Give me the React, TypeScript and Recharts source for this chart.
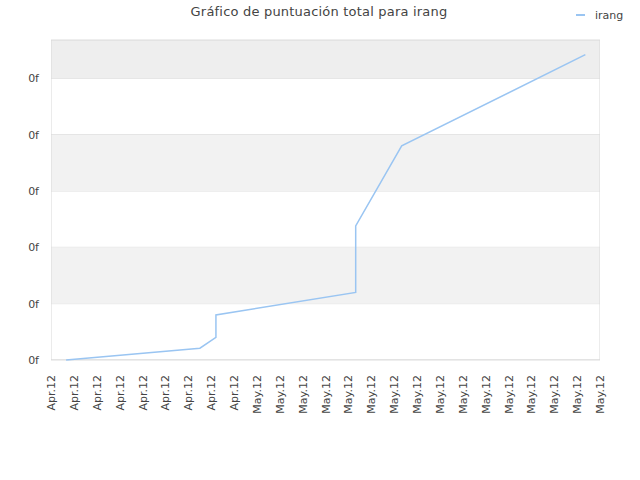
import React from 'react';
import {
  LineChart,
  Line,
  XAxis,
  YAxis,
  CartesianGrid,
  ReferenceArea
} from 'recharts';

// tick labels along the x axis (one per tick)
const xLabels = [
  'Apr.12', 'Apr.12', 'Apr.12', 'Apr.12', 'Apr.12', 'Apr.12', 'Apr.12', 'Apr.12', 'Apr.12',
  'May.12', 'May.12', 'May.12', 'May.12', 'May.12', 'May.12', 'May.12', 'May.12',
  'May.12', 'May.12', 'May.12', 'May.12', 'May.12', 'May.12', 'May.12', 'May.12'
];

// series positions (in tick units) and scores
const scoreX = [0.66, 6.51, 7.21, 7.21, 13.32, 13.32, 15.33, 23.36];
const scoreY = [0, 0.21, 0.4, 0.8, 1.2, 2.38, 3.8, 5.42];

const yTicks = [0, 1, 2, 3, 4, 5];
const yMax = 5.68;

const data = scoreX.map((x, i) => ({ x, irang: scoreY[i] }));
const xTicks = xLabels.map((_, i) => i);

const FONT = '"DejaVu Sans", Verdana, sans-serif';

const XTick = (props: any) => {
  const { x, y, payload } = props;
  return (
    <text
      x={0}
      y={0}
      transform={`translate(${x + 4},${y + 7}) rotate(-90)`}
      textAnchor="end"
      fontSize={11}
      fontFamily={FONT}
      fill="#444"
    >
      {xLabels[payload.value]}
    </text>
  );
};

const YTick = (props: any) => {
  const { x, y } = props;
  return (
    <text x={x - 4} y={y + 4} textAnchor="end" fontSize={11} fontFamily={FONT} fill="#444">
      0f
    </text>
  );
};

const App: React.FC = () => {
  return (
    <div style={{ position: 'absolute', left: 0, top: 0, width: 640, height: 480, background: '#fff' }}>
      <div
        style={{
          position: 'absolute',
          left: 0,
          top: 4,
          width: 638,
          textAlign: 'center',
          fontFamily: FONT,
          fontSize: 13,
          letterSpacing: 0.2,
          color: '#444'
        }}
      >
        Gráfico de puntuación total para irang
      </div>
      <svg style={{ position: 'absolute', left: 576, top: 6 }} width={60} height={20}>
        <line x1={0} y1={9} x2={9} y2={9} stroke="#9ac5f2" strokeWidth={2} />
        <text x={19} y={13} fontSize={11} fontFamily={FONT} fill="#444">
          irang
        </text>
      </svg>
      <LineChart
        width={640}
        height={480}
        data={data}
        margin={{ top: 40, right: 40, left: 6, bottom: 60 }}
      >
        <ReferenceArea y1={5} y2={yMax} fill="#eeeeee" fillOpacity={1} stroke="none" ifOverflow="hidden" />
        <ReferenceArea y1={3} y2={4} fill="#f2f2f2" fillOpacity={1} stroke="none" />
        <ReferenceArea y1={1} y2={2} fill="#f2f2f2" fillOpacity={1} stroke="none" />
        <CartesianGrid vertical={false} stroke="#dddddd" />
        <ReferenceArea
          x1={0}
          x2={24}
          y1={0}
          y2={yMax}
          fill="none"
          stroke="#d8d8d8"
          ifOverflow="hidden"
        />
        <XAxis
          dataKey="x"
          type="number"
          domain={[0, 24]}
          ticks={xTicks}
          interval={0}
          tick={<XTick />}
          axisLine={false}
          tickLine={false}
          height={60}
        />
        <YAxis
          type="number"
          domain={[0, yMax]}
          ticks={yTicks}
          axisLine={false}
          tickLine={false}
          width={45}
          tick={<YTick />}
        />
        <Line
          dataKey="irang"
          stroke="#9ac5f2"
          strokeWidth={1.5}
          dot={false}
          isAnimationActive={false}
          type="linear"
        />
      </LineChart>
    </div>
  );
};

export default App;
